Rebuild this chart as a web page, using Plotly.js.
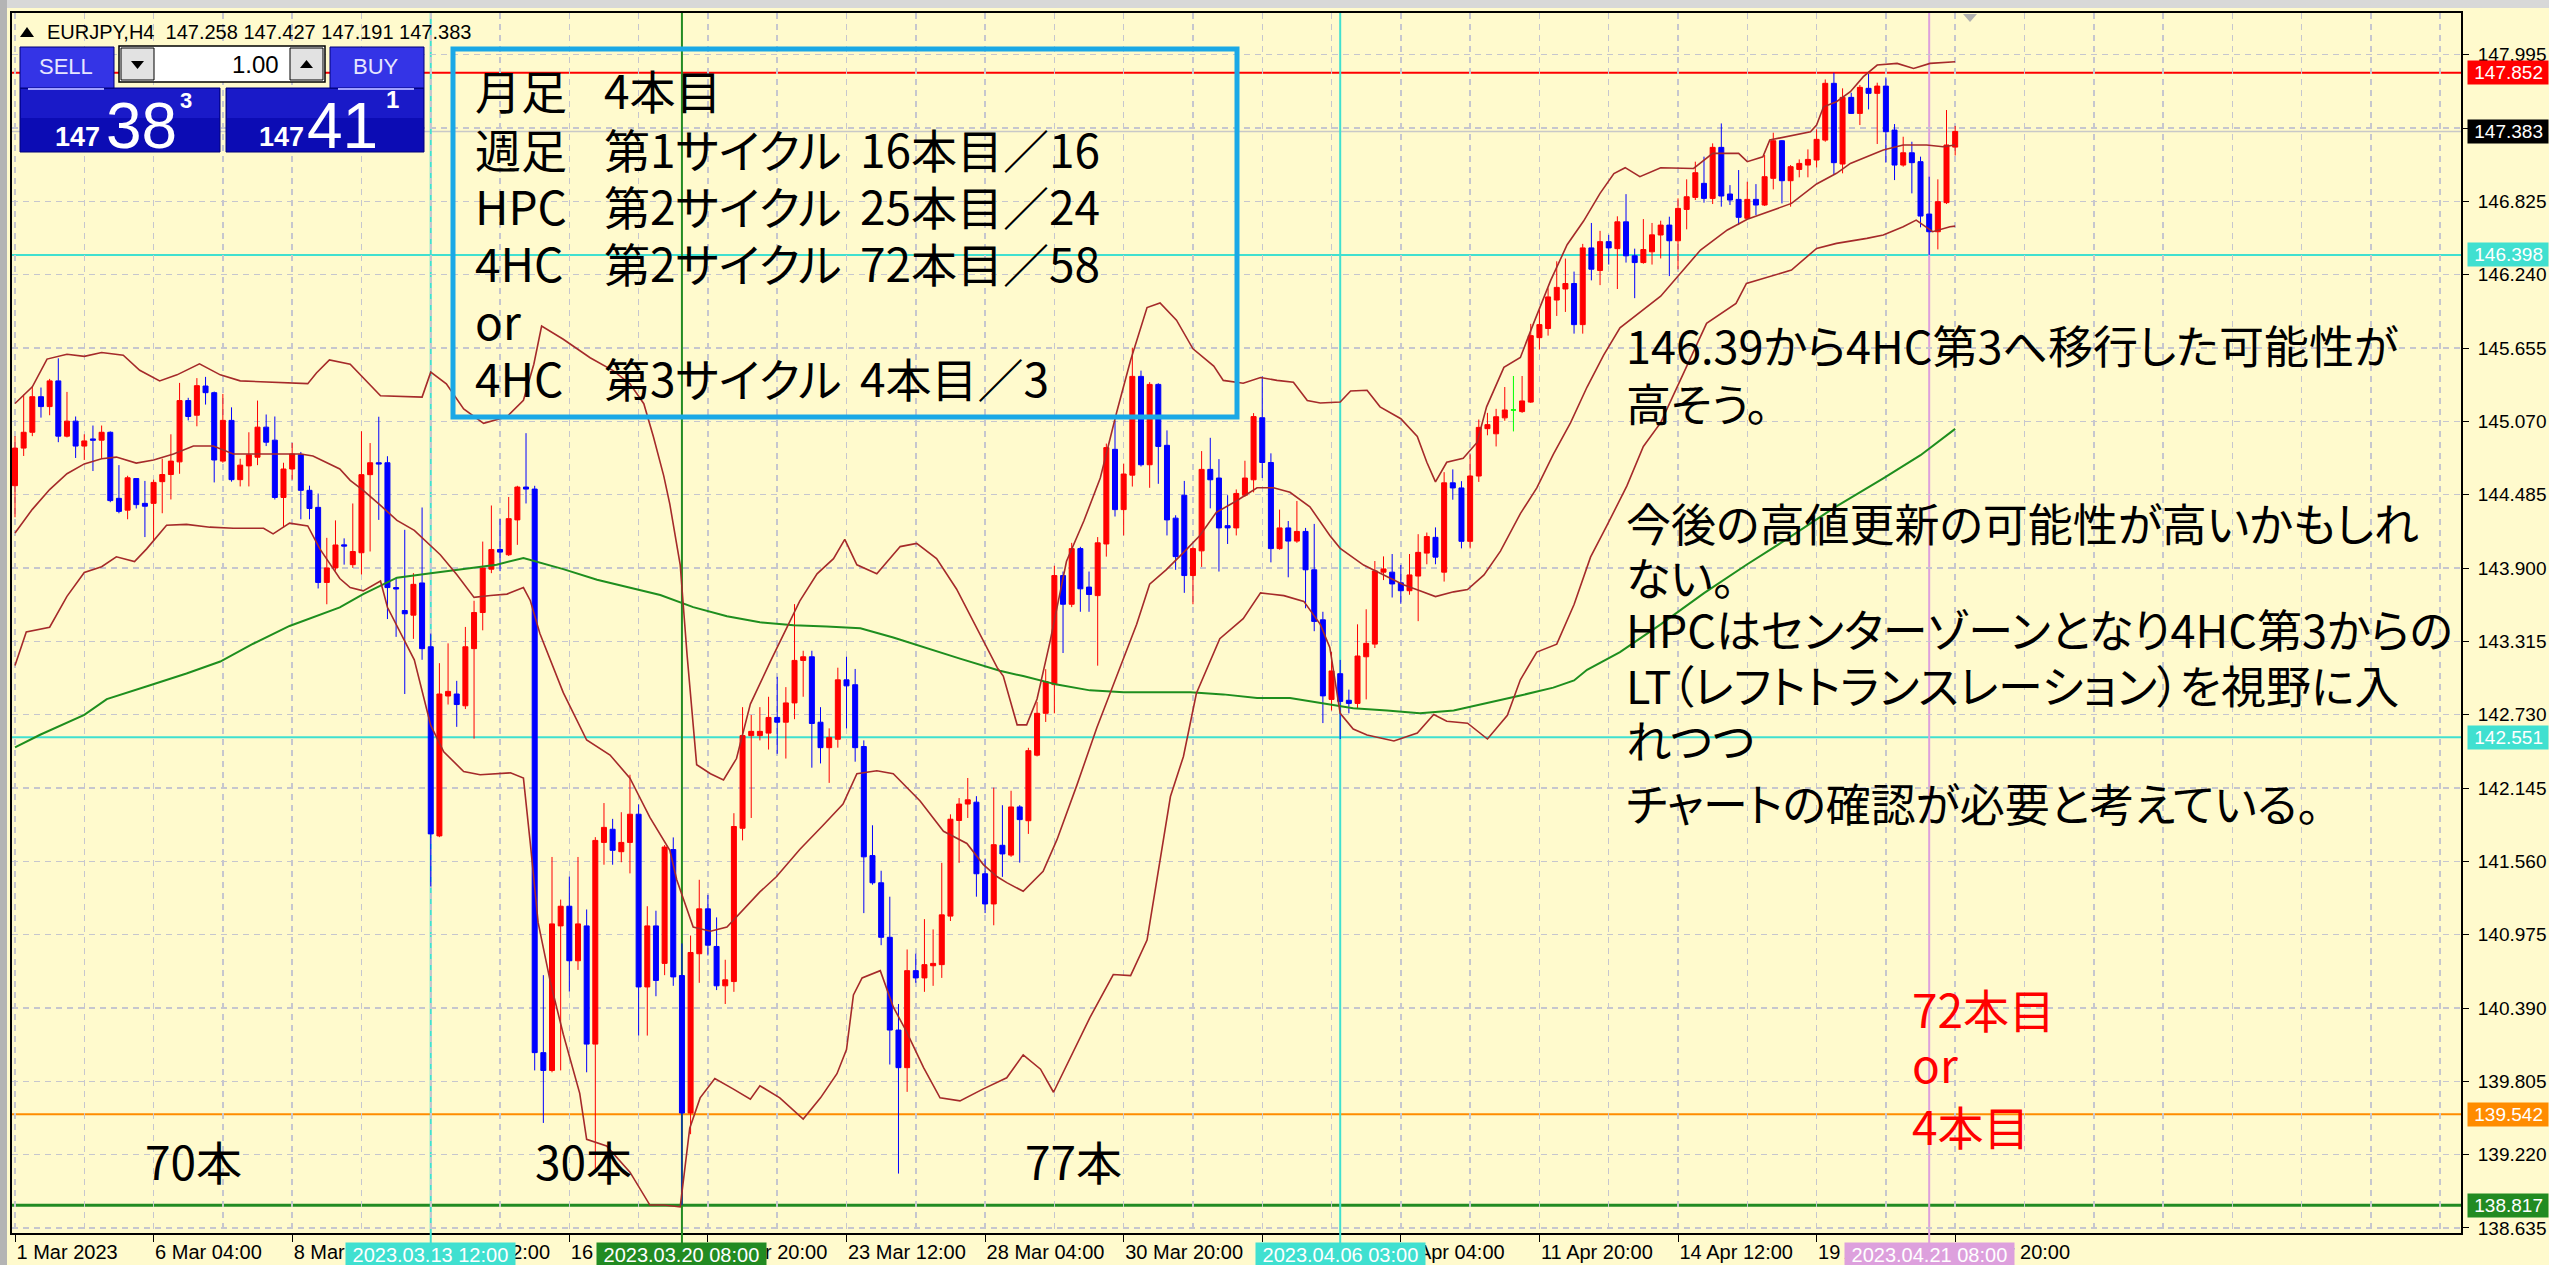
<!DOCTYPE html>
<html>
<head>
<meta charset="utf-8">
<script src="https://cdn.plot.ly/plotly-3.0.1.min.js"></script>
<style>
html,body{margin:0;padding:0;background:#FFFACD;overflow:hidden;}
#chart{width:2549px;height:1265px;}
.annotation-text{font-feature-settings:"palt" 1;}
</style>
</head>
<body>
<div id="chart"></div>
<script>
// ---------------- DATA ----------------
const tradingDays = ["2023.03.01","2023.03.02","2023.03.03","2023.03.06","2023.03.07","2023.03.08","2023.03.09","2023.03.10",
"2023.03.13","2023.03.14","2023.03.15","2023.03.16","2023.03.17","2023.03.20","2023.03.21","2023.03.22","2023.03.23","2023.03.24",
"2023.03.27","2023.03.28","2023.03.29","2023.03.30","2023.03.31","2023.04.03","2023.04.04","2023.04.05","2023.04.06","2023.04.07",
"2023.04.10","2023.04.11","2023.04.12","2023.04.13","2023.04.14","2023.04.17","2023.04.18","2023.04.19","2023.04.20","2023.04.21"];
const barHours = ["00:00","04:00","08:00","12:00","16:00","20:00"];
const firstBar = "2023.03.01 12:00";

const open = [144.557,144.857,144.983,145.267,145.188,145.393,144.952,145.072,144.873,144.930,
144.920,144.983,144.456,144.362,144.614,144.416,144.416,144.589,144.646,144.747,
145.236,145.119,145.352,145.299,144.753,145.078,144.605,144.715,144.784,145.024,
144.920,144.463,144.690,144.803,144.520,144.384,143.785,143.901,144.085,143.927,
144.022,144.645,144.740,144.740,143.744,143.561,143.524,143.781,143.272,141.763,
142.879,142.895,142.801,143.257,143.545,143.891,144.048,144.006,144.284,144.546,
144.530,140.034,139.892,141.045,141.202,140.767,141.045,140.102,141.711,141.816,
141.637,141.711,141.936,140.558,141.045,140.746,141.654,140.649,139.552,140.823,
141.181,140.881,140.567,140.601,141.824,142.563,142.563,142.583,142.708,142.670,
142.824,143.163,143.192,142.670,142.467,142.534,143.008,142.969,142.476,141.606,
141.389,140.954,140.214,139.914,140.688,140.630,140.727,140.736,141.123,141.886,
142.017,142.032,141.461,141.220,141.688,141.610,141.994,141.884,142.407,142.741,
142.970,143.840,143.611,144.055,143.748,143.680,144.092,144.847,144.366,144.641,
145.429,144.724,145.365,144.879,144.298,144.481,143.840,144.037,144.687,144.618,
144.238,144.220,144.481,144.604,145.099,144.742,144.055,144.220,144.115,144.192,
143.886,143.487,142.852,143.057,142.845,142.820,143.192,143.293,143.867,143.867,
143.782,143.719,143.836,144.019,144.145,143.867,144.580,144.539,144.113,144.634,
145.012,144.971,145.098,145.161,145.148,145.224,145.738,145.811,146.038,146.126,
146.170,145.842,146.454,146.274,146.504,146.448,146.662,146.391,146.337,146.423,
146.557,146.636,146.511,146.761,146.857,146.969,146.849,147.256,146.884,146.841,
146.690,146.841,146.796,147.009,147.309,146.990,147.080,147.115,147.155,147.314,
147.767,147.123,147.655,147.527,147.727,147.687,147.745,147.394,147.115,147.213,
147.142,146.724,146.583,146.815,147.258];

const high = [144.952,145.283,145.352,145.340,145.409,145.573,145.305,145.109,144.967,145.037,
145.037,144.990,144.721,144.636,144.614,144.595,144.605,144.772,144.967,145.377,
145.258,145.415,145.425,145.308,145.289,145.182,144.772,144.983,145.236,145.125,
145.109,144.740,144.898,144.826,144.557,144.494,144.141,144.280,144.137,144.415,
144.991,144.897,145.107,144.792,143.823,144.205,143.859,144.383,143.377,143.141,
143.299,143.000,143.430,143.639,144.111,144.399,144.294,144.467,144.556,144.976,
144.556,140.652,141.595,141.255,141.438,141.595,141.176,141.753,142.025,141.899,
141.952,142.251,142.015,141.202,141.166,141.690,141.751,140.905,140.968,141.413,
141.292,141.113,140.775,141.944,142.790,142.728,142.790,142.873,143.032,142.950,
143.612,143.240,143.240,142.790,142.621,143.105,143.192,143.095,142.525,141.848,
141.485,141.278,140.422,140.857,140.823,141.099,141.017,141.548,141.935,142.065,
142.225,142.080,141.582,142.148,142.008,142.123,142.008,142.466,142.832,143.093,
143.918,143.872,144.101,144.069,143.872,144.147,144.893,145.076,144.733,145.658,
145.475,145.383,145.374,144.998,144.321,144.595,144.069,144.833,144.939,144.769,
144.481,144.527,144.756,145.136,145.429,144.815,144.366,144.275,144.435,144.220,
144.252,143.551,143.230,143.167,142.930,143.451,143.571,143.956,143.993,144.012,
143.924,144.012,144.170,144.183,144.224,144.665,144.687,144.593,144.807,145.085,
145.138,145.170,145.344,145.432,145.432,145.848,145.959,146.132,146.347,146.369,
146.265,146.486,146.653,146.590,146.558,146.706,146.883,146.448,146.684,146.653,
146.671,146.703,146.849,147.001,147.142,147.182,147.288,147.447,146.955,147.075,
146.982,146.963,147.195,147.373,147.314,147.115,147.160,147.240,147.400,147.798,
147.852,147.727,147.692,147.753,147.841,147.772,147.814,147.442,147.341,147.301,
147.182,147.022,147.001,147.554,147.427];

const low = [144.305,144.794,144.952,145.100,145.119,144.904,144.942,144.778,144.762,144.674,
144.772,144.425,144.337,144.289,144.375,144.147,144.116,144.337,144.447,144.652,
145.078,145.031,145.204,144.583,144.740,144.589,144.551,144.551,144.721,144.873,
144.447,144.226,144.605,144.289,144.289,143.737,143.611,143.879,143.927,143.901,
143.849,144.032,144.284,143.493,143.351,142.895,143.335,143.168,141.360,141.753,
142.811,142.633,142.775,142.539,143.403,143.859,143.875,143.996,144.085,144.415,
139.892,139.473,139.877,139.892,140.521,140.694,139.877,139.106,141.533,141.533,
141.553,141.464,140.170,140.170,140.484,140.652,140.567,138.817,139.383,140.591,
140.809,140.533,140.422,140.519,141.727,141.906,142.525,142.452,142.418,142.380,
142.694,142.873,142.307,142.341,142.186,142.467,142.621,142.355,141.147,141.374,
140.891,139.939,139.069,139.721,140.591,140.519,140.567,140.630,141.084,141.548,
141.906,141.278,141.147,141.050,141.436,141.596,141.550,141.779,142.397,142.672,
142.741,143.222,143.588,143.551,143.551,143.121,143.991,144.311,144.160,144.550,
144.710,144.540,144.572,144.160,143.886,143.702,143.611,143.909,144.376,143.872,
144.092,144.160,144.467,144.504,144.618,143.945,144.046,143.826,144.101,143.579,
143.396,142.663,142.763,142.536,142.741,142.782,142.852,143.262,143.804,143.665,
143.615,143.687,143.476,143.930,143.930,143.792,144.445,144.057,144.057,144.587,
144.959,144.870,145.075,144.990,145.138,145.217,145.643,145.754,145.911,145.943,
145.770,145.770,146.195,146.157,146.321,146.126,146.337,146.053,146.328,146.321,
146.370,146.229,146.283,146.602,146.836,146.815,146.804,146.783,146.796,146.636,
146.682,146.716,146.788,146.921,146.809,146.783,147.017,147.017,147.096,147.301,
147.043,147.049,147.522,147.434,147.559,147.283,147.134,146.995,147.102,146.889,
146.618,146.398,146.442,146.804,147.191];

const close = [144.857,144.983,145.267,145.188,145.393,144.952,145.072,144.873,144.914,144.920,
144.983,144.438,144.352,144.620,144.406,144.393,144.583,144.646,144.753,145.236,
145.109,145.355,145.299,144.762,145.078,144.605,144.721,144.803,145.024,144.904,
144.463,144.690,144.810,144.520,144.375,143.785,143.901,144.084,144.075,144.032,
144.645,144.740,144.730,143.744,143.733,143.535,143.770,143.257,141.779,142.895,
142.916,142.811,143.272,143.545,143.901,144.048,144.027,144.294,144.546,144.530,
140.034,139.892,141.061,141.202,140.767,141.061,140.102,141.727,141.831,141.648,
141.711,141.936,140.558,141.045,140.610,141.674,140.638,139.552,140.833,141.181,
140.891,140.567,140.615,141.838,142.563,142.597,142.597,142.708,142.670,142.824,
143.163,143.192,142.660,142.467,142.549,143.008,142.960,142.467,141.596,141.389,
140.954,140.214,139.914,140.688,140.630,140.736,140.746,141.133,141.896,142.017,
142.051,141.461,141.220,141.693,141.619,141.994,141.893,142.443,142.741,142.993,
143.840,143.611,144.055,143.734,143.689,144.101,144.861,144.366,144.650,145.429,
144.724,145.365,144.870,144.284,143.991,143.840,144.055,144.687,144.604,144.220,
144.220,144.495,144.618,145.108,144.742,144.055,144.220,144.115,144.192,143.886,
143.474,142.880,143.079,142.836,142.820,143.198,143.299,143.877,143.893,143.773,
143.719,143.845,144.025,144.151,143.987,144.580,144.539,144.113,144.634,145.022,
145.044,145.107,145.161,145.161,145.233,145.754,145.842,146.063,146.139,146.170,
145.842,146.454,146.284,146.504,146.454,146.662,146.391,146.337,146.441,146.558,
146.636,146.511,146.769,146.862,147.054,146.849,147.256,146.868,146.836,146.698,
146.841,146.796,147.022,147.309,146.990,147.102,147.128,147.160,147.320,147.767,
147.134,147.655,147.527,147.735,147.687,147.745,147.381,147.115,147.213,147.134,
146.708,146.583,146.823,147.275,147.383];

// Bollinger Bands (20), positions in bar units
const bbUpperIdx = [0,2,3.7,6,8,10,12.5,14.4,16.7,18.7,21.3,23.7,26,29,33.8,34.8,36.3,38.7,40.2,42.2,47,48,49.8,51.8,54.1,56.8,58.7,59.9,60.8,63.3,66.4,69.1,71,72.6,73.7,74.9,75.6,76.8,77.6,78.7,80.3,81.8,83.3,84.9,87.2,89.1,90.6,92.6,94.5,95.8,97.2,99.5,102.2,104.1,106.4,108.7,110.7,111.8,113.4,114.1,115.7,116.8,118,119.5,121.4,123.4,125.3,127.2,128.8,130.7,132.2,134.1,136,138.4,139.5,141.8,143.8,145.7,147.6,149.2,150.7,153,154.2,156.1,157.6,160,161.9,163,164,165.3,167.2,168.8,169.9,171.9,173.8,175.3,177.3,179.2,181.1,183,184.6,185.9,187.6,190,193.8,196,199,200,201.8,202.6,204.2,207.3,208,208.8,210.3,211.9,213.4,215,217.3,219.2,221.1,224];
const bbUpper = [145.213,145.346,145.567,145.605,145.589,145.620,145.598,145.478,145.393,145.441,145.529,145.441,145.393,145.384,145.371,145.456,145.560,145.526,145.421,145.274,145.264,145.463,145.369,145.170,145.054,145.107,145.238,145.526,145.830,145.725,145.578,145.473,145.369,145.211,144.949,144.635,144.410,143.926,143.201,142.331,142.259,142.210,142.380,142.815,143.153,143.419,143.636,143.854,143.975,144.129,143.926,143.854,144.071,144.096,143.975,143.733,143.467,143.308,143.105,143.038,142.649,142.649,142.855,143.313,143.954,144.275,144.618,145.145,145.557,145.978,146.015,145.877,145.649,145.511,145.397,145.374,145.420,145.397,145.383,145.236,145.217,145.224,145.312,145.318,145.186,145.091,144.949,144.744,144.587,144.744,144.776,144.902,145.186,145.501,145.580,145.848,146.195,146.479,146.668,146.889,147.047,147.094,147.022,147.094,147.088,147.208,147.208,147.142,147.181,147.315,147.336,147.381,147.434,147.580,147.620,147.700,147.820,147.913,147.926,147.886,147.926,147.939];
const bbMidIdx = [0,2,4,6,8,10,11.7,14,16,18.3,20.6,22.9,25.2,28.3,31,33,34.4,36,37.5,38.7,40.2,42.2,44.1,46.1,47.5,49.1,51,53,54.9,56.8,58.7,59.5,60.6,63.3,66,68.7,71,73.3,75.6,76.4,78.3,80.3,82.2,83.7,86,87.9,90.6,93.3,95.6,97.2,99.5,101.4,104.5,107.2,109.9,111.8,113.4,114.5,116.4,118.7,120.3,122.6,124.9,127.2,129.5,131,132.9,134.9,136.8,138.7,141,143.4,145.3,147.2,149.5,151.8,153,155.7,158.4,160.3,162.2,164,166.1,167.7,169.6,171.5,173.8,175.7,177.6,179.6,181.5,183.4,185.3,187.6,190,194.6,197.7,200,205.1,208,210.3,211.9,213.8,215.7,218,220.7,222.6,224];
const bbMid = [144.179,144.368,144.526,144.652,144.731,144.772,144.785,144.737,144.762,144.810,144.873,144.873,144.810,144.810,144.810,144.810,144.794,144.740,144.690,144.600,144.520,144.400,144.280,144.200,144.111,144.006,143.849,143.666,143.681,143.692,143.744,143.639,143.377,142.906,142.528,142.408,142.224,141.910,141.648,141.413,141.036,141.002,141.036,141.147,141.316,141.437,141.655,141.848,142.017,142.259,142.283,142.259,142.041,141.800,141.703,141.534,141.437,141.390,141.321,141.481,141.733,142.168,142.626,143.038,143.451,143.771,143.886,144.023,144.160,144.344,144.435,144.540,144.540,144.504,144.389,144.160,144.057,143.924,143.830,143.766,143.719,143.672,143.710,143.728,143.845,144.035,144.334,144.539,144.807,145.060,145.344,145.596,145.817,145.943,146.069,146.437,146.597,146.682,146.809,146.964,147.049,147.128,147.182,147.235,147.275,147.275,147.261,147.275];
const bbLowerIdx = [0,1.3,4,6,8,10,11.7,13.8,15.2,17.5,19.8,22.5,25.2,28.7,29.8,31.7,33.8,35.2,37.5,38.7,40.2,42.2,43,46.1,48,49.5,51.8,53.7,57.2,58.7,59.5,60.4,61.8,63.3,65.2,66,68.3,71,73.3,74.9,76.8,77.9,79.1,80.8,82.9,84.9,86,88.3,91,93,94.9,96,96.8,97.8,99.9,101.4,102.9,104.9,106.8,109.1,111.8,113.7,114.5,116.4,118.4,119.9,122.2,124.1,126.8,128.8,130.7,131.8,133.4,134.9,136.4,139.1,141.8,143.8,146.5,148.8,150.7,151.8,153,154.5,156.1,159.2,161.9,163.8,165.3,167.7,170,172.3,173.8,175.7,178,180,181.9,183.8,186.1,188,190,195.3,198.7,199.9,205.1,208,210.3,213.8,215.7,218,219.5,221.4,223.4,224];
const bbLower = [143.122,143.390,143.428,143.674,143.864,143.911,143.990,143.952,144.053,144.242,144.248,144.226,144.217,144.217,144.173,144.258,144.236,144.053,143.816,143.744,143.718,143.797,143.587,143.168,142.644,142.434,142.277,142.251,142.266,142.224,141.700,141.071,140.600,140.181,139.709,139.342,139.289,139.080,138.818,138.818,138.803,139.431,139.673,139.827,139.745,139.663,139.770,139.673,139.504,139.673,139.866,140.059,140.494,140.630,140.688,140.398,140.205,139.915,139.673,139.649,139.745,139.808,139.833,140.016,139.902,139.718,140.039,140.314,140.657,140.648,140.932,141.390,142.077,142.397,142.901,143.336,143.496,143.702,143.680,143.634,143.451,143.267,142.741,142.615,142.568,142.520,142.583,142.732,142.678,142.662,142.536,142.725,143.009,143.230,143.293,143.609,143.987,144.240,144.555,144.870,145.060,145.852,146.011,146.171,146.277,146.450,146.490,146.530,146.557,146.623,146.676,146.583,146.623,146.628];
// long moving average (green)
const maIdx = [0,2.9,8,10.6,15.6,19.8,23.7,27.5,31.7,34.8,37.5,40.2,44.1,48,51.8,55.6,58.7,63.3,67.2,71,74.5,78.3,82.2,86,89.9,93.7,97.6,101.4,105.3,109.1,113.7,116.4,120.3,124.1,128,131.8,135.7,139.5,143.4,147.2,151.8,154.5,158.4,162.2,166.1,169.9,173.8,177.6,180,181.5,185.3,190,195,200,205,210,215.7,220,224];
const maVals = [142.470,142.570,142.728,142.854,142.965,143.059,143.154,143.296,143.438,143.517,143.586,143.692,143.823,143.859,143.891,143.927,143.980,143.891,143.807,143.744,143.685,143.588,143.515,143.467,143.443,143.433,143.419,143.346,143.259,143.177,143.080,143.038,142.970,142.924,142.910,142.910,142.910,142.892,142.864,142.864,142.809,142.782,142.763,142.741,142.763,142.820,142.883,142.946,143.003,143.088,143.230,143.451,143.700,143.930,144.150,144.380,144.615,144.800,145.010];

// time axis labels
const tickBars = ["2023.03.01 12:00","2023.03.06 04:00","2023.03.08 20:00","2023.03.13 12:00","2023.03.16 04:00","2023.03.20 20:00",
"2023.03.23 12:00","2023.03.28 04:00","2023.03.30 20:00","2023.04.04 12:00","2023.04.07 04:00","2023.04.11 20:00",
"2023.04.14 12:00","2023.04.19 04:00","2023.04.21 20:00"];
const tickLabels = ["1 Mar 2023","6 Mar 04:00","8 Mar 20:00","13 Mar 12:00","16 Mar 04:00","20 Mar 20:00",
"23 Mar 12:00","28 Mar 04:00","30 Mar 20:00","4 Apr 12:00","7 Apr 04:00","11 Apr 20:00",
"14 Apr 12:00","19 Apr 04:00","21 Apr 20:00"];

// horizontal price levels
const levelPrices = [147.852, 146.398, 142.551, 139.542, 138.817];
const levelColors = ["#FF0000", "#40E0D0", "#40E0D0", "#FF8C00", "#228B22"];
const bidPrice = 147.383;
// vertical time lines
const vlineBars = ["2023.03.13 12:00","2023.03.20 08:00","2023.04.06 00:00","2023.04.21 08:00"];
const vlineLabels = ["2023.03.13 12:00","2023.03.20 08:00","2023.04.06 03:00","2023.04.21 08:00"];
const vlineColors = ["#40E0D0","#228B22","#40E0D0","#DDA0DD"];

// texts
const boxCol1 = ["月足","週足","HPC","4HC","or","4HC"];
const boxCol2 = ["4本目","第1サイクル","第2サイクル","第2サイクル","","第3サイクル"];
const boxCol3 = ["","16本目／16","25本目／24","72本目／58","","4本目／3"];
const noteLines = ["146.39から4HC第3へ移行した可能性が","高そう。","","今後の高値更新の可能性が高いかもしれ","ない。",
"HPCはセンターゾーンとなり4HC第3からの","LT（レフトトランスレーション）を視野に入","れつつ","チャートの確認が必要と考えている。"];
const redLines = ["72本目","or","4本目"];
const countLabels = ["70本","30本","77本"];

// ---------------- BUILD ----------------
const categories = [];
tradingDays.forEach(d => barHours.forEach(h => { const t = d + " " + h; if (t >= firstBar) categories.push(t); }));
const barIndex = categories.map((c, i) => i);
const idxOf = t => categories.indexOf(t);

const isDoji = open.map((o, i) => o === close[i]);
const pick = (arr, keep) => arr.map((v, i) => keep(i) ? v : null);

const W = 2549, H = 1265, PL = 12, PR = 2461, PT = 13, PB = 1233;
const px = x => (x - PL) / (PR - PL);
const py = y => (PB - y) / (PB - PT);

const JP = '"Noto Sans CJK JP", sans-serif';
const LAT = '"Liberation Sans", Arial, sans-serif';
const GRID = "#C6C6CE";
const AXF = 19;

const traces = [
  {type:"candlestick", x:barIndex, open:pick(open,i=>!isDoji[i]), high:pick(high,i=>!isDoji[i]), low:pick(low,i=>!isDoji[i]), close:pick(close,i=>!isDoji[i]),
   increasing:{line:{color:"#FF0000", width:1}, fillcolor:"#FF0000"},
   decreasing:{line:{color:"#0000FF", width:1}, fillcolor:"#0000FF"},
   whiskerwidth:0, hoverinfo:"skip", showlegend:false},
  {type:"candlestick", x:barIndex, open:pick(open,i=>isDoji[i]), high:pick(high,i=>isDoji[i]), low:pick(low,i=>isDoji[i]), close:pick(close,i=>isDoji[i]),
   increasing:{line:{color:"#00FF00", width:1}, fillcolor:"#00FF00"},
   decreasing:{line:{color:"#00FF00", width:1}, fillcolor:"#00FF00"},
   whiskerwidth:0, hoverinfo:"skip", showlegend:false},
  {type:"scatter", mode:"lines", x:maIdx, y:maVals, line:{color:"#1E8E1E", width:2}, hoverinfo:"skip", showlegend:false},
  {type:"scatter", mode:"lines", x:bbUpperIdx, y:bbUpper, line:{color:"#A52A2A", width:1.6}, hoverinfo:"skip", showlegend:false},
  {type:"scatter", mode:"lines", x:bbMidIdx, y:bbMid, line:{color:"#A52A2A", width:1.6}, hoverinfo:"skip", showlegend:false},
  {type:"scatter", mode:"lines", x:bbLowerIdx, y:bbLower, line:{color:"#A52A2A", width:1.6}, hoverinfo:"skip", showlegend:false}
];

const shapes = [];
const annotations = [];

// horizontal lines
levelPrices.forEach((p, i) => shapes.push({type:"line", xref:"paper", x0:0, x1:1, yref:"y", y0:p, y1:p,
  line:{color:levelColors[i], width: i===4 ? 3 : 2}, layer:"between"}));
shapes.push({type:"line", xref:"paper", x0:0, x1:1, yref:"y", y0:bidPrice, y1:bidPrice, line:{color:"#C8C8C8", width:1.5}, layer:"between"});
// vertical lines
vlineBars.forEach((t, i) => {
  const j = idxOf(t);
  shapes.push({type:"line", xref:"x", x0:j, x1:j, yref:"paper", y0:0, y1:1, line:{color:vlineColors[i], width:2}, layer:"between"});
  shapes.push({type:"line", xref:"x", x0:j, x1:j, yref:"paper", y0:py(1243), y1:0, line:{color:vlineColors[i], width:2}, layer:"above"});
  annotations.push({text:"\u00a0"+vlineLabels[i]+"\u00a0", xref:"x", x:j, xanchor:"center", yref:"paper", y:py(1242), yanchor:"top",
    showarrow:false, bgcolor:vlineColors[i], borderpad:1, font:{family:LAT, size:20, color:"#FFFFFF"}});
});

// price labels on the right axis
levelPrices.forEach((p, i) => annotations.push({text:"\u00a0"+p.toFixed(3), xref:"paper", x:px(2467), xanchor:"left", yref:"y", y:p, yanchor:"middle",
  showarrow:false, bgcolor:levelColors[i], borderpad:1, width:78, align:"left", font:{family:LAT, size:AXF, color:"#FFFFFF"}}));
annotations.push({text:"\u00a0"+bidPrice.toFixed(3), xref:"paper", x:px(2467), xanchor:"left", yref:"y", y:bidPrice, yanchor:"middle",
  showarrow:false, bgcolor:"#000000", borderpad:1, width:78, align:"left", font:{family:LAT, size:AXF, color:"#FFFFFF"}});

// cyan framed note box
shapes.push({type:"rect", xref:"paper", yref:"paper", x0:px(453), x1:px(1237), y0:py(49), y1:py(417), line:{color:"#1AA8E6", width:5}, fillcolor:"rgba(0,0,0,0)", layer:"above"});
const boxRows = [89, 148, 205, 262, 320, 377];
const jpText = (text, x, y, color, size) => ({text, xref:"paper", yref:"paper", x:px(x), y:py(y), xanchor:"left", yanchor:"middle",
  showarrow:false, font:{family:JP, size:size||46, color:color||"#000000"}});
boxRows.forEach((y, i) => {
  if (boxCol1[i]) annotations.push(jpText(boxCol1[i], 473, y));
  if (boxCol2[i]) annotations.push(jpText(boxCol2[i], 602, y));
  if (boxCol3[i]) annotations.push(jpText(boxCol3[i], 858, y));
});
const noteRows = [345, 402, 460, 522, 576, 629, 684, 740, 803];
noteLines.forEach((t, i) => { if (t) annotations.push(jpText(t, 1624, noteRows[i], "#000000", 45)); });
[1008, 1063, 1125].forEach((y, i) => annotations.push(jpText(redLines[i], 1910, y, "#FF0000")));
[143, 533, 1023].forEach((x, i) => annotations.push(jpText(countLabels[i], x, 1160)));

// window chrome
shapes.push({type:"rect", xref:"paper", yref:"paper", x0:px(0), x1:px(W), y0:py(0), y1:py(8), fillcolor:"#D8D8D8", line:{width:0}, layer:"above"});
shapes.push({type:"rect", xref:"paper", yref:"paper", x0:px(0), x1:px(7), y0:py(0), y1:py(H), fillcolor:"#B4B4B4", line:{width:0}, layer:"above"});
// chart shift marker
const tri = (pts, color) => ({type:"path", xref:"paper", yref:"paper",
  path:"M" + pts.map(p => px(p[0]) + "," + py(p[1])).join(" L") + " Z", fillcolor:color, line:{width:0}, layer:"above"});
shapes.push(tri([[1963,14],[1977,14],[1970,22]], "#B0B0B0"));

// header line
shapes.push(tri([[20,37],[34,37],[27,27]], "#000000"));
const lastIdx = categories.length - 1;
annotations.push({text:"EURJPY,H4\u00a0\u00a0" + [open[lastIdx], high[lastIdx], low[lastIdx], close[lastIdx]].map(v=>v.toFixed(3)).join(" "),
  xref:"paper", yref:"paper", x:px(45), y:py(32), xanchor:"left", yanchor:"middle", showarrow:false, font:{family:LAT, size:20, color:"#000"}});

// one-click trading panel
const rect = (x0,y0,x1,y1,fill,lc,lw) => ({type:"rect", xref:"paper", yref:"paper", x0:px(x0), x1:px(x1), y0:py(y0), y1:py(y1),
  fillcolor:fill, line:{color:lc||fill, width:lw||0}, layer:"above"});
shapes.push(rect(20,88,220,152,"#0C0CB4","#00007A",1));
shapes.push(rect(21,89,219,118,"#1A1AC8"));
shapes.push(rect(20,47,114,88,"#3434E6","#00007A",1));
shapes.push(rect(226,88,424,152,"#0C0CB4","#00007A",1));
shapes.push(rect(227,89,423,118,"#1A1AC8"));
shapes.push(rect(330,47,424,88,"#3434E6","#00007A",1));
shapes.push({type:"line", xref:"paper", yref:"paper", x0:px(28), x1:px(104), y0:py(89), y1:py(89), line:{color:"#A0A0FF", width:2}, layer:"above"});
shapes.push({type:"line", xref:"paper", yref:"paper", x0:px(338), x1:px(414), y0:py(89), y1:py(89), line:{color:"#A0A0FF", width:2}, layer:"above"});
shapes.push(rect(119,46,325,82,"#FFFFFF","#000000",1.5));
shapes.push(rect(121,48,154,80,"#E2E2E2","#000000",1));
shapes.push(rect(290,48,323,80,"#E2E2E2","#000000",1));
shapes.push(tri([[131,61],[144,61],[137.5,69]], "#000000"));
shapes.push(tri([[300,68],[313,68],[306.5,60]], "#000000"));
const panelText = (text, x, y, size, color, bold, anchor) => ({text: bold ? "<b>"+text+"</b>" : text, xref:"paper", yref:"paper", x:px(x), y:py(y),
  xanchor:anchor||"center", yanchor:"middle", showarrow:false, font:{family:LAT, size, color}});
annotations.push(panelText("1.00", 281, 64, 24, "#000000", false, "right"));
annotations.push(panelText("SELL", 66, 66, 22, "#E6E6FF"));
annotations.push(panelText("BUY", 376, 66, 22, "#E6E6FF"));
const bidStr = bidPrice.toFixed(3), askStr = "147.411";
annotations.push(panelText(bidStr.slice(0,3), 77, 137, 27, "#FFFFFF", true));
annotations.push(panelText(bidStr.slice(4,6), 141, 126, 64, "#FFFFFF", false));
annotations.push(panelText(bidStr.slice(6), 186, 101, 22, "#FFFFFF", true));
annotations.push(panelText(askStr.slice(0,3), 281, 137, 27, "#FFFFFF", true));
annotations.push(panelText(askStr.slice(4,6), 342, 126, 64, "#FFFFFF", false));
annotations.push(panelText(askStr.slice(6), 392, 99, 24, "#FFFFFF", true));

const layout = {
  width:W, height:H,
  margin:{l:PL, r:W-PR, t:PT, b:H-PB, pad:0},
  paper_bgcolor:"#FFFACD", plot_bgcolor:"#FFFACD",
  font:{family:LAT, size:20, color:"#000"},
  showlegend:false, hovermode:false, dragmode:false,
  boxmode:"overlay", boxgap:0.2, boxgroupgap:0.28,
  xaxis:{type:"linear", range:[-0.346, 282.4], rangeslider:{visible:false},
    tickmode:"array", tickvals:tickBars.map(idxOf), ticktext:tickLabels,
    ticks:"outside", ticklen:7, tickwidth:1, tickcolor:"#000",
    ticklabelposition:"outside right", tickfont:{family:LAT, size:20, color:"#000"},
    showgrid:true, gridcolor:GRID, griddash:"6px,5px", gridwidth:1.5,
    minor:{tick0:0, dtick:8, showgrid:true, gridcolor:GRID, griddash:"6px,5px", gridwidth:1.5, ticks:""},
    showline:true, linecolor:"#000", linewidth:2, mirror:true, zeroline:false, fixedrange:true},
  yaxis:{side:"right", range:[138.595, 148.328], tick0:138.635, dtick:0.585, tickformat:".3f",
    ticks:"outside", ticklen:6, tickwidth:1, tickcolor:"#000", ticklabelstandoff:5,
    tickfont:{family:LAT, size:AXF, color:"#000"},
    showgrid:true, gridcolor:GRID, griddash:"6px,5px", gridwidth:1.5,
    showline:true, linecolor:"#000", linewidth:2, mirror:true, zeroline:false, fixedrange:true},
  shapes, annotations
};

Plotly.newPlot("chart", traces, layout, {staticPlot:true, displayModeBar:false});
</script>
</body>
</html>
